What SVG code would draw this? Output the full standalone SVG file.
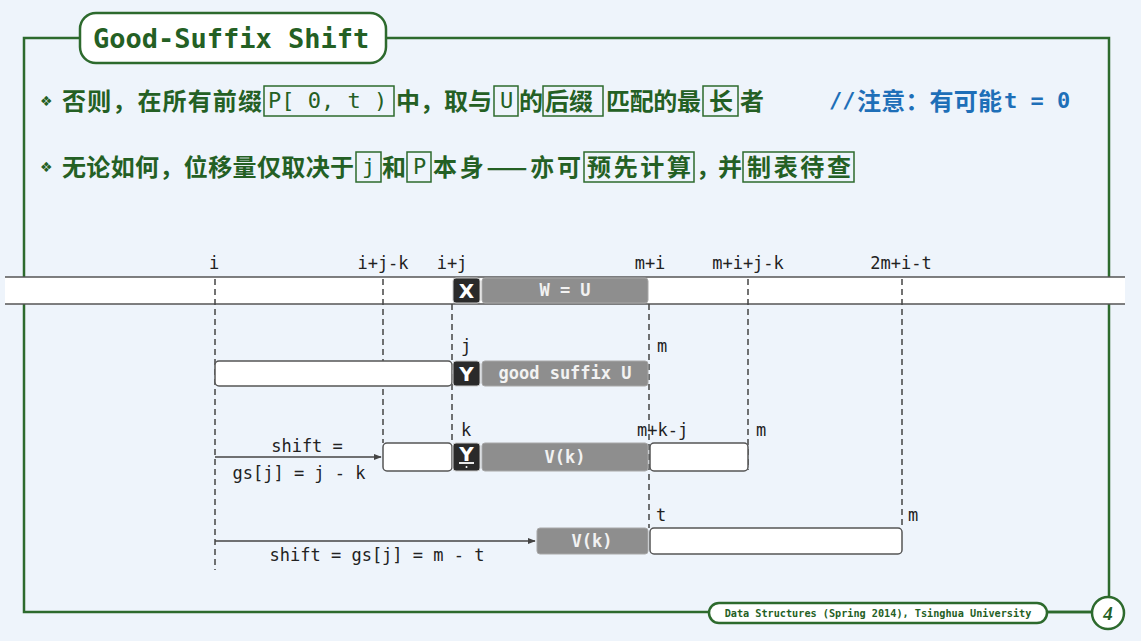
<svg xmlns="http://www.w3.org/2000/svg" width="1141" height="641" viewBox="0 0 1141 641">
<defs>
<marker id="arr" viewBox="0 0 10 10" refX="9" refY="5" markerWidth="8" markerHeight="8" markerUnits="userSpaceOnUse" orient="auto"><path d="M0,1 L10,5 L0,9 z" fill="#444"/></marker>
<style>
.frame{fill:none;stroke:#2d6a2d;stroke-width:2.5}
.cjk{font-family:"Noto Sans CJK SC","Noto Sans",sans-serif;font-weight:bold;font-size:24px;fill:#246024}
.mono{font-family:"DejaVu Sans Mono","Liberation Mono",monospace}
.kbox{fill:none;stroke:#2d6a2d;stroke-width:1.5}
.gm{font-family:"DejaVu Sans Mono","Liberation Mono",monospace;font-size:22px;fill:#246024}
.blue{fill:#1e6fb8}
.lab{font-family:"DejaVu Sans Mono","Liberation Mono",monospace;font-size:17px;fill:#222}
.dash{stroke:#444;stroke-width:1.5;stroke-dasharray:6 4;fill:none}
.white{fill:#fff;stroke:#555;stroke-width:1.5}
.gray{fill:#8e8e8e;stroke:#a8a8a8;stroke-width:1}
.dark{fill:#2a2a2a;stroke:#c8c8c8;stroke-width:1}
.gt{font-family:"DejaVu Sans Mono","Liberation Mono",monospace;font-size:17px;fill:#f2f2f2;text-anchor:middle;font-weight:bold}
.dt{font-family:"DejaVu Sans","Liberation Sans",sans-serif;font-weight:bold;font-size:20px;fill:#fff;text-anchor:middle}
.edge{stroke:#444;stroke-width:1.5;fill:none}
.bul{font-family:"DejaVu Sans",sans-serif;font-size:14px;fill:#246024}
</style>
</defs>
<rect width="1141" height="641" fill="#eef4fb"/>
<g id="frame">
<path class="frame" d="M80,38 H24 V612 H1092 M386,38 H1109 V597"/>
<rect x="80" y="13" width="306" height="50" rx="16" fill="#fff" stroke="#2d6a2d" stroke-width="2.5"/>
<text x="93" y="48" class="mono" font-size="27" font-weight="bold" fill="#246024">Good-Suffix Shift</text>
<rect x="709" y="603" width="338" height="20" rx="10" fill="#fff" stroke="#2d6a2d" stroke-width="2.5"/>
<text x="878" y="617" class="mono" font-size="10.2" font-weight="bold" fill="#246024" text-anchor="middle">Data Structures (Spring 2014), Tsinghua University</text>
<line x1="1047" y1="612" x2="1092" y2="612" stroke="#2d6a2d" stroke-width="2.5"/>
<circle cx="1108" cy="613" r="16" fill="#fff" stroke="#2d6a2d" stroke-width="2.5"/>
<text x="1108" y="620" font-family="Liberation Serif,serif" font-style="italic" font-weight="bold" font-size="19" fill="#246024" text-anchor="middle">4</text>
</g>
<g id="line1">
<text x="40" y="106" class="bul">❖</text>
<text x="62" y="110" class="cjk" textLength="200" lengthAdjust="spacing">否则，在所有前缀</text>
<rect class="kbox" x="264" y="86" width="130" height="30"/>
<text x="268" y="108" class="gm">P[ 0, t )</text>
<text x="396" y="110" class="cjk" textLength="96" lengthAdjust="spacing">中，取与</text>
<rect class="kbox" x="494" y="86" width="24" height="30"/>
<text x="500" y="108" class="gm">U</text>
<text x="519" y="110" class="cjk">的</text>
<rect class="kbox" x="543" y="86" width="60" height="30"/>
<text x="545" y="110" class="cjk">后缀</text>
<text x="606" y="110" class="cjk" textLength="95" lengthAdjust="spacing">匹配的最</text>
<rect class="kbox" x="703" y="86" width="35" height="30"/>
<text x="709" y="110" class="cjk">长</text>
<text x="740" y="110" class="cjk">者</text>
<text x="829" y="108" class="gm blue" font-weight="bold">//</text>
<text x="857" y="110" class="cjk blue" textLength="145" lengthAdjust="spacing">注意：有可能</text>
<text x="1004" y="108" class="gm blue" font-weight="bold">t = 0</text>
</g>
<g id="line2">
<text x="40" y="172" class="bul">❖</text>
<text x="62" y="176" class="cjk" textLength="292" lengthAdjust="spacing">无论如何，位移量仅取决于</text>
<rect class="kbox" x="356" y="152" width="25" height="30"/>
<text x="362" y="174" class="gm">j</text>
<text x="382" y="176" class="cjk">和</text>
<rect class="kbox" x="407" y="152" width="24" height="30"/>
<text x="413" y="174" class="gm">P</text>
<text x="433" y="176" class="cjk" textLength="148" lengthAdjust="spacing">本身——亦可</text>
<rect class="kbox" x="584" y="152" width="110" height="30"/>
<text x="587" y="176" class="cjk" textLength="104" lengthAdjust="spacing">预先计算</text>
<text x="696" y="176" class="cjk" textLength="46" lengthAdjust="spacing">，并</text>
<rect class="kbox" x="743" y="152" width="111" height="30"/>
<text x="747" y="176" class="cjk" textLength="104" lengthAdjust="spacing">制表待查</text>
</g>
<g id="text-bar">
<rect x="5" y="277" width="1120" height="27" fill="#fff"/>
<line x1="5" y1="277" x2="1125" y2="277" stroke="#555" stroke-width="1.5"/>
<line x1="5" y1="304" x2="1125" y2="304" stroke="#555" stroke-width="1.5"/>
</g>
<g id="guides">
<line class="dash" x1="215" y1="279" x2="215" y2="570"/>
<line class="dash" x1="383" y1="279" x2="383" y2="443"/>
<line class="dash" x1="452" y1="304" x2="452" y2="443"/>
<line class="dash" x1="649" y1="304" x2="649" y2="528"/>
<line class="dash" x1="748" y1="279" x2="748" y2="470"/>
<line class="dash" x1="902" y1="279" x2="902" y2="528"/>
</g>
<g id="labels" class="lab">
<text x="214" y="269" text-anchor="middle">i</text>
<text x="383" y="269" text-anchor="middle">i+j-k</text>
<text x="452" y="269" text-anchor="middle">i+j</text>
<text x="650" y="269" text-anchor="middle">m+i</text>
<text x="748" y="269" text-anchor="middle">m+i+j-k</text>
<text x="901" y="269" text-anchor="middle">2m+i-t</text>
<text x="461" y="352">j</text>
<text x="657" y="352">m</text>
<text x="461" y="436">k</text>
<text x="637" y="436">m+k-j</text>
<text x="756" y="436">m</text>
<text x="656" y="521">t</text>
<text x="908" y="521">m</text>
</g>
<g id="row1">
<rect class="dark" x="453" y="278" width="27" height="25" rx="3"/>
<text class="dt" x="466.5" y="298">X</text>
<rect class="gray" x="482" y="278" width="166" height="25" rx="3"/>
<text class="gt" x="565" y="296">W = U</text>
</g>
<g id="row2">
<rect class="white" x="215" y="361" width="237" height="25" rx="4"/>
<rect class="dark" x="453" y="361" width="27" height="25" rx="3"/>
<text class="dt" x="466.5" y="381">Y</text>
<rect class="gray" x="482" y="361" width="166" height="25" rx="3"/>
<text class="gt" x="565" y="379" font-size="16">good suffix U</text>
</g>
<g id="row3">
<rect class="white" x="383" y="443" width="69" height="28" rx="4"/>
<rect class="dark" x="453" y="443" width="27" height="28" rx="3"/>
<text class="dt" x="466.5" y="461" font-size="17">Y</text>
<line x1="459" y1="463" x2="474" y2="463" stroke="#fff" stroke-width="1.8"/>
<circle cx="466.5" cy="467" r="1" fill="#fff"/>
<rect class="gray" x="482" y="443" width="166" height="28" rx="3"/>
<text class="gt" x="565" y="463" font-size="18">V(k)</text>
<rect class="white" x="650" y="443" width="98" height="28" rx="4"/>
</g>
<g id="row4">
<rect class="gray" x="537" y="528" width="111" height="26" rx="3"/>
<text class="gt" x="592" y="547" font-size="18">V(k)</text>
<rect class="white" x="650" y="528" width="252" height="26" rx="4"/>
</g>
<g id="connectors">
<line class="edge" x1="215" y1="457" x2="381" y2="457" marker-end="url(#arr)"/>
<line class="edge" x1="215" y1="541" x2="535" y2="541" marker-end="url(#arr)"/>
</g>
<g id="shift-labels" class="lab" font-size="18">
<text x="307" y="452" text-anchor="middle">shift =</text>
<text x="299" y="479" text-anchor="middle">gs[j] = j - k</text>
<text x="377" y="561" text-anchor="middle">shift = gs[j] = m - t</text>
</g>
</svg>
